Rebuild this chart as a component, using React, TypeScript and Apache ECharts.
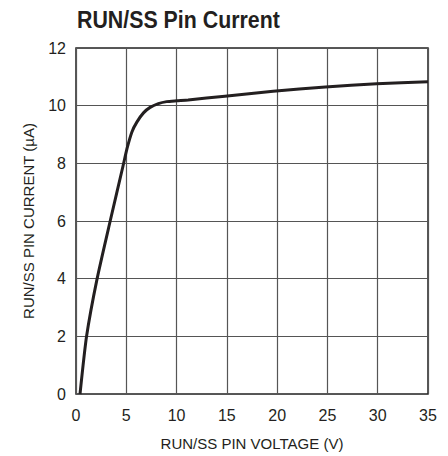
import React, { useEffect, useRef } from "react";
import * as echarts from "echarts";

const voltage = [0.4, 1.05, 2.1, 3.4, 4.67, 5.07, 5.56, 6.05, 6.71, 7.37, 8.19, 9.01, 10.0, 11.15, 14.8, 19.6, 24.8, 29.9, 35];
const current = [0, 2, 4, 6, 7.9, 8.51, 9.09, 9.43, 9.75, 9.94, 10.07, 10.14, 10.17, 10.2, 10.33, 10.5, 10.65, 10.76, 10.83];
const xTicks = [0, 5, 10, 15, 20, 25, 30, 35];
const yTicks = [0, 2, 4, 6, 8, 10, 12];

const FONT = "'Liberation Sans Narrow', 'Liberation Sans', Arial, sans-serif";
const INK = "#231f20";

export default function App() {
  const ref = useRef<HTMLDivElement>(null);
  useEffect(() => {
    if (!ref.current) return;
    const chart = echarts.init(ref.current, undefined, { renderer: "svg" });
    chart.setOption({
      animation: false,
      backgroundColor: "#fff",
      grid: {
        left: 76,
        right: 20,
        top: 48,
        bottom: 57,
        show: true,
        borderColor: "#222",
        borderWidth: 1.5,
      },
      xAxis: {
        type: "value",
        min: xTicks[0],
        max: xTicks[xTicks.length - 1],
        interval: 5,
        name: "RUN/SS PIN VOLTAGE (V)",
        nameLocation: "middle",
        nameGap: 42,
        nameTextStyle: { fontFamily: FONT, fontSize: 15, color: INK },
        axisLine: { show: false },
        axisTick: { show: false },
        axisLabel: { margin: 13, fontFamily: FONT, fontSize: 16, color: INK },
        splitLine: { show: true, lineStyle: { color: "#555", width: 1.2 } },
      },
      yAxis: {
        type: "value",
        min: yTicks[0],
        max: yTicks[yTicks.length - 1],
        interval: 2,
        name: "RUN/SS PIN CURRENT (µA)",
        nameLocation: "middle",
        nameGap: 40,
        nameTextStyle: { fontFamily: FONT, fontSize: 15, color: INK },
        axisLine: { show: false },
        axisTick: { show: false },
        axisLabel: { margin: 10, fontFamily: FONT, fontSize: 16, color: INK },
        splitLine: { show: true, lineStyle: { color: "#555", width: 1.2 } },
      },
      graphic: [
        {
          type: "text",
          x: 77,
          y: 8,
          scaleX: 0.89,
          style: {
            text: "RUN/SS Pin Current",
            fontFamily: FONT,
            fontWeight: "bold",
            fontSize: 24,
            fill: INK,
            align: "left",
            verticalAlign: "top",
          },
        },
      ],
      series: [
        {
          type: "line",
          data: voltage.map((v, i) => [v, current[i]]),
          smooth: 0.2,
          showSymbol: false,
          lineStyle: { color: INK, width: 3 },
        },
      ],
    });
    return () => chart.dispose();
  }, []);
  return (
    <div
      ref={ref}
      style={{ position: "absolute", left: 0, top: 0, width: 448, height: 456 }}
    />
  );
}
